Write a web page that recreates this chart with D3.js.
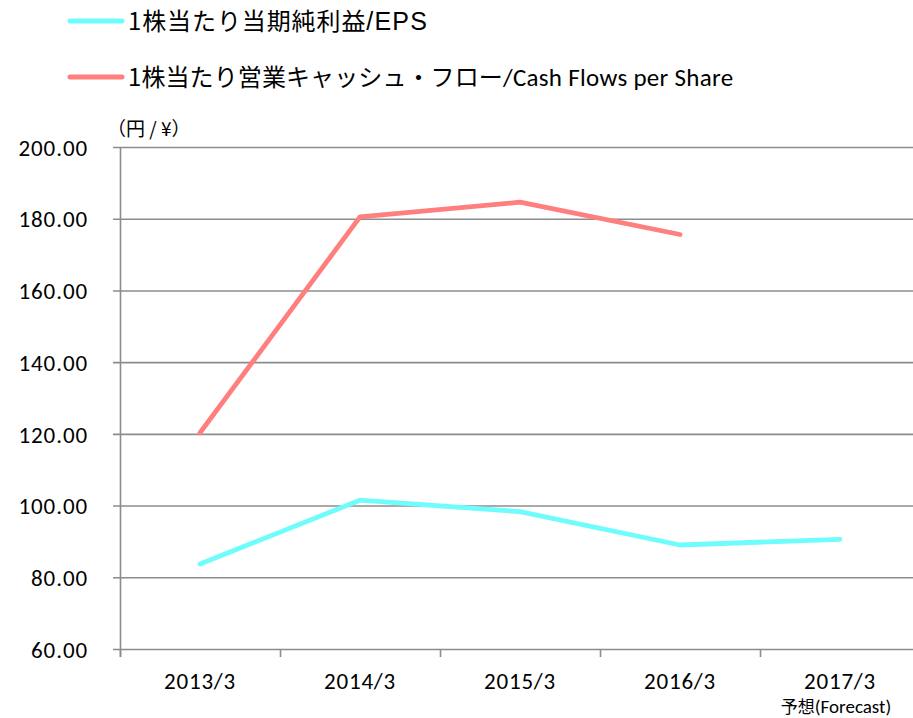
<!DOCTYPE html>
<html>
<head>
<meta charset="utf-8">
<script src="https://cdn.jsdelivr.net/npm/d3@7"></script>
<style>
  body { margin: 0; background: #fff; }
  svg { display: block; }
</style>
</head>
<body>
<svg id="chart" width="913" height="718"></svg>
<script>
// data
var years = ['2013/3', '2014/3', '2015/3', '2016/3', '2017/3'];
var eps = [83.7, 101.5, 98.3, 89.0, 90.6];
var cashFlow = [120.3, 180.5, 184.6, 175.6];
var yTicks = [60, 80, 100, 120, 140, 160, 180, 200];
var legendJp = ['1株当たり当期純利益', '1株当たり営業キャッシュ・フロー'];
var legendEn = ['/EPS', '/Cash Flows per Share'];
var seriesColors = ['#6ffcfc', '#ff7f7f'];

var svg = d3.select('#chart');
var numFont = 'Carlito, Lato, "Open Sans", sans-serif';
var jpFont = '"Noto Sans CJK JP", sans-serif';

var margin = { left: 120, top: 147, right: -7, bottom: 69 };
var width = 913 - margin.left - margin.right;
var height = 718 - margin.top - margin.bottom;

var x = d3.scaleBand().domain(years).range([0, width]);
var y = d3.scaleLinear().domain([60, 200]).range([height, 0]);

var g = svg.append('g')
    .attr('transform', 'translate(' + margin.left + ',' + margin.top + ')');

// gridlines + y axis
var yAxis = g.append('g')
    .call(d3.axisLeft(y).tickValues(yTicks).tickSize(-width).tickSizeOuter(0)
        .tickFormat(d3.format('.2f')));
yAxis.select('.domain').remove();
yAxis.selectAll('.tick line')
    .attr('x1', -7)
    .attr('stroke', '#8c8c8c')
    .attr('stroke-width', 1.6);
yAxis.selectAll('.tick text')
    .attr('x', -32)
    .attr('dy', '0.36em')
    .style('font-family', numFont)
    .style('font-size', '23px')
    .style('letter-spacing', '0.9px')
    .attr('fill', '#000');

// vertical axis line
g.append('line')
    .attr('x1', 0.5).attr('x2', 0.5)
    .attr('y1', 0).attr('y2', height + 8)
    .attr('stroke', '#8c8c8c').attr('stroke-width', 1.6);

// x axis
var xAxis = g.append('g')
    .attr('transform', 'translate(0,' + height + ')')
    .call(d3.axisBottom(x).tickSize(0).tickSizeOuter(0));
xAxis.select('.domain').remove();
xAxis.selectAll('.tick text')
    .attr('y', 32)
    .attr('dy', '0.36em')
    .style('font-family', numFont)
    .style('font-size', '23px')
    .style('letter-spacing', '0.8px')
    .attr('fill', '#000');

// x ticks between categories
g.selectAll('.xsep')
    .data(years)
    .enter().append('line')
    .attr('class', 'xsep')
    .attr('x1', function (d) { return x(d) + 0.5; })
    .attr('x2', function (d) { return x(d) + 0.5; })
    .attr('y1', height).attr('y2', height + 8)
    .attr('stroke', '#8c8c8c').attr('stroke-width', 1.6);

var fc = g.append('text')
    .attr('x', x('2017/3') + x.bandwidth() / 2 - 4)
    .attr('y', height + 64)
    .attr('text-anchor', 'middle');
fc.append('tspan')
    .style('font-family', jpFont)
    .style('font-size', '17px')
    .text('予想');
fc.append('tspan')
    .style('font-family', numFont)
    .style('font-size', '19px')
    .text('(Forecast)');

// unit label
g.append('text')
    .attr('x', -13)
    .attr('y', -11)
    .style('font-family', jpFont)
    .style('font-size', '19px')
    .text('（円 / ¥）');

// lines
var line = d3.line()
    .x(function (d, i) { return x(years[i]) + x.bandwidth() / 2; })
    .y(function (d) { return y(d); });

[eps, cashFlow].forEach(function (series, i) {
    g.append('path')
        .datum(series)
        .attr('d', line)
        .attr('fill', 'none')
        .attr('stroke', seriesColors[i])
        .attr('stroke-width', 4.8)
        .attr('stroke-linecap', 'round')
        .attr('stroke-linejoin', 'round');
});

// legend
var legend = svg.append('g');
legendJp.forEach(function (label, i) {
    var ly = 21 + i * 56;
    legend.append('line')
        .attr('x1', 70).attr('x2', 122)
        .attr('y1', ly).attr('y2', ly)
        .attr('stroke', seriesColors[i])
        .attr('stroke-width', 5)
        .attr('stroke-linecap', 'round');
    var t = legend.append('text')
        .attr('x', 128)
        .attr('y', ly + 9);
    t.append('tspan')
        .style('font-family', jpFont)
        .style('font-size', '24px')
        .style('letter-spacing', i === 0 ? '0.9px' : '0.1px')
        .text(label);
    t.append('tspan')
        .style('font-family', i === 0 ? '"Liberation Sans", Arial, sans-serif' : numFont)
        .style('font-size', '25px')
        .style('letter-spacing', i === 0 ? '1.2px' : '0.3px')
        .text(legendEn[i]);
});
</script>
</body>
</html>
